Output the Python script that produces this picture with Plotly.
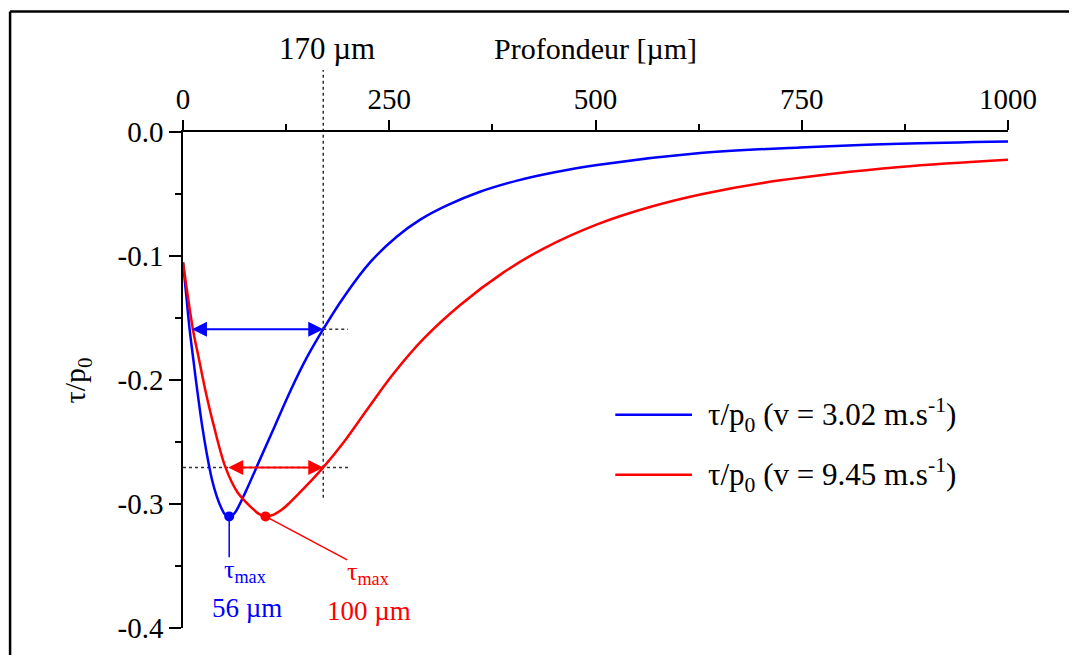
import plotly.graph_objects as go

# ---------------- data ----------------
depth_blue = [0, 4, 8, 13, 17, 23, 29, 35, 41, 47, 51, 56, 61, 65, 76, 94, 112, 130, 150, 170,
              195, 227, 259, 288, 320, 360, 405, 449, 502, 627, 748, 869, 1000]
tau_blue = [-0.105, -0.132, -0.159, -0.186, -0.207, -0.236, -0.260, -0.280, -0.294, -0.304,
            -0.3085, -0.310, -0.3085, -0.305, -0.290, -0.263, -0.236, -0.209, -0.182, -0.159,
            -0.133, -0.105, -0.0845, -0.0705, -0.0592, -0.0482, -0.0392, -0.0327, -0.0266,
            -0.0170, -0.0124, -0.0094, -0.0076]

depth_red = [0, 12, 19, 27, 37, 51.5, 66, 84, 92, 100, 110, 120, 130, 142, 156, 170, 195, 223,
             255, 292, 336, 389, 437, 502, 566, 630, 724, 869, 1000]
tau_red = [-0.105, -0.159, -0.182, -0.208, -0.236, -0.2705, -0.2905, -0.3035, -0.3080, -0.310,
           -0.3085, -0.3045, -0.2985, -0.2905, -0.2808, -0.2705, -0.2500, -0.2240, -0.1950,
           -0.1665, -0.1395, -0.1130, -0.0940, -0.0745, -0.0605, -0.0500, -0.0390, -0.0282,
           -0.0223]

series_names = ["τ/p<sub>0</sub> (v = 3.02 m.s<sup>-1</sup>)",
                "τ/p<sub>0</sub> (v = 9.45 m.s<sup>-1</sup>)"]
series_colors = ["#0000FF", "#FF0000"]

tau_max_depth = [56, 100]
tau_max_value = [-0.31, -0.31]
tau_max_labels = ["56 µm", "100 µm"]

half_level = [-0.159, -0.2705]        # tau level of the width arrows
half_left = [9, 53]                   # left end of the width arrows
ref_depth = 170                       # dotted reference depth
ref_label = "170 µm"

x_ticks = [0, 250, 500, 750, 1000]
x_ticktext = ["0", "250", "500", "750", "1000"]
y_ticks = [0.0, -0.1, -0.2, -0.3, -0.4]
y_ticktext = ["0.0", "-0.1", "-0.2", "-0.3", "-0.4"]

x_title = "Profondeur [µm]"
y_title = "τ/p<sub>0</sub>"

# ---------------- figure ----------------
FONT = "Liberation Serif"
YMIN, YMAX = -0.4, 0.0


def yp(v):
    return (v - YMIN) / (YMAX - YMIN)


fig = go.Figure()
for xs, ys, name, col in [(depth_blue, tau_blue, series_names[0], series_colors[0]),
                          (depth_red, tau_red, series_names[1], series_colors[1])]:
    fig.add_trace(go.Scatter(x=xs, y=ys, mode="lines", name=name,
                             line=dict(color=col, width=2.5, shape="spline", smoothing=1.0),
                             showlegend=False))

fig.add_trace(go.Scatter(x=tau_max_depth, y=tau_max_value, mode="markers",
                         marker=dict(color=series_colors, size=10),
                         showlegend=False, cliponaxis=False))

shapes = []
dot = dict(color="#333333", width=1.5, dash="dot")
# vertical dotted reference line
shapes.append(dict(type="line", xref="x", yref="paper", x0=ref_depth, x1=ref_depth,
                   y0=yp(-0.295), y1=1.125, line=dot, layer="below"))
# horizontal dotted lines
shapes.append(dict(type="line", xref="x", yref="y", x0=ref_depth, x1=200,
                   y0=half_level[0], y1=half_level[0], line=dot))
shapes.append(dict(type="line", xref="x", yref="y", x0=0, x1=200,
                   y0=half_level[1], y1=half_level[1], line=dot, layer="below"))
# leader lines for tau max
shapes.append(dict(type="line", xref="x", yref="y", x0=tau_max_depth[0], x1=tau_max_depth[0],
                   y0=tau_max_value[0], y1=-0.343, line=dict(color=series_colors[0], width=1.5)))
shapes.append(dict(type="line", xref="x", yref="y", x0=tau_max_depth[1], x1=199,
                   y0=tau_max_value[1], y1=-0.345, line=dict(color=series_colors[1], width=1.5)))
# legend sample lines
for i, yv in enumerate([-0.228, -0.2764]):
    shapes.append(dict(type="line", xref="x", yref="y", x0=524, x1=617, y0=yv, y1=yv,
                       line=dict(color=series_colors[i], width=2.5)))
# outer frame (top and left edges visible)
shapes.append(dict(type="line", xref="paper", yref="paper", x0=-0.2096, x1=1.2,
                   y0=1.243, y1=1.243, line=dict(color="black", width=2.5)))
shapes.append(dict(type="line", xref="paper", yref="paper", x0=-0.2096, x1=-0.2096,
                   y0=1.243, y1=-0.2, line=dict(color="black", width=2.5)))

annotations = []
# double-headed width arrows
for i in range(2):
    annotations.append(dict(x=ref_depth, y=half_level[i], ax=half_left[i], ay=half_level[i],
                            xref="x", yref="y", axref="x", ayref="y", text="",
                            showarrow=True, arrowhead=2, arrowside="end+start",
                            arrowsize=1.5, arrowwidth=2, arrowcolor=series_colors[i]))
# legend texts
for i, yv in enumerate([-0.228, -0.2764]):
    annotations.append(dict(x=634, y=yv, xref="x", yref="y", text=series_names[i],
                            showarrow=False, xanchor="left", yanchor="middle",
                            font=dict(family=FONT, size=31, color="black")))
# tau max labels
annotations.append(dict(x=47, y=-0.354, xref="x", yref="y", text="τ<sub>max</sub>",
                        showarrow=False, xanchor="left", yanchor="middle",
                        font=dict(family=FONT, size=26, color=series_colors[0])))
annotations.append(dict(x=196, y=-0.356, xref="x", yref="y", text="τ<sub>max</sub>",
                        showarrow=False, xanchor="left", yanchor="middle",
                        font=dict(family=FONT, size=26, color=series_colors[1])))
annotations.append(dict(x=77, y=-0.384, xref="x", yref="y", text=tau_max_labels[0],
                        showarrow=False, xanchor="center", yanchor="middle",
                        font=dict(family=FONT, size=27, color=series_colors[0])))
annotations.append(dict(x=225, y=-0.386, xref="x", yref="y", text=tau_max_labels[1],
                        showarrow=False, xanchor="center", yanchor="middle",
                        font=dict(family=FONT, size=27, color=series_colors[1])))
# axis titles
annotations.append(dict(x=0.5, y=1.169, xref="paper", yref="paper", text=x_title,
                        showarrow=False, xanchor="center", yanchor="middle",
                        font=dict(family=FONT, size=30, color="black")))
annotations.append(dict(x=175, y=1.169, xref="x", yref="paper", text=ref_label,
                        showarrow=False, xanchor="center", yanchor="middle",
                        font=dict(family=FONT, size=31, color="black")))
annotations.append(dict(x=-0.128, y=0.5, xref="paper", yref="paper", text=y_title,
                        showarrow=False, xanchor="center", yanchor="middle", textangle=-90,
                        font=dict(family=FONT, size=30, color="black")))

fig.update_layout(
    width=1069, height=647,
    margin=dict(l=174.5, r=69, t=124, b=27),
    paper_bgcolor="white", plot_bgcolor="white",
    showlegend=False,
    shapes=shapes, annotations=annotations,
    xaxis=dict(range=[0, 1000], side="top", tickvals=x_ticks, ticktext=x_ticktext,
               showgrid=False, zeroline=False, showline=True, linecolor="black",
               linewidth=1.5, ticks="outside", ticklen=10, tickwidth=1.5, tickcolor="black",
               tickfont=dict(family=FONT, size=29, color="black"),
               minor=dict(dtick=125, tick0=0, ticks="outside", ticklen=6, tickwidth=1.5,
                          tickcolor="black", showgrid=False),
               fixedrange=True),
    yaxis=dict(range=[YMIN, YMAX], tickvals=y_ticks, ticktext=y_ticktext,
               showgrid=False, zeroline=False, showline=True, linecolor="black",
               linewidth=1.5, ticks="outside", ticklen=12, tickwidth=1.5, tickcolor="black",
               tickfont=dict(family=FONT, size=29, color="black"),
               minor=dict(dtick=0.05, tick0=0, ticks="outside", ticklen=6, tickwidth=1.5,
                          tickcolor="black", showgrid=False),
               fixedrange=True),
)

fig.write_html("out.html")
